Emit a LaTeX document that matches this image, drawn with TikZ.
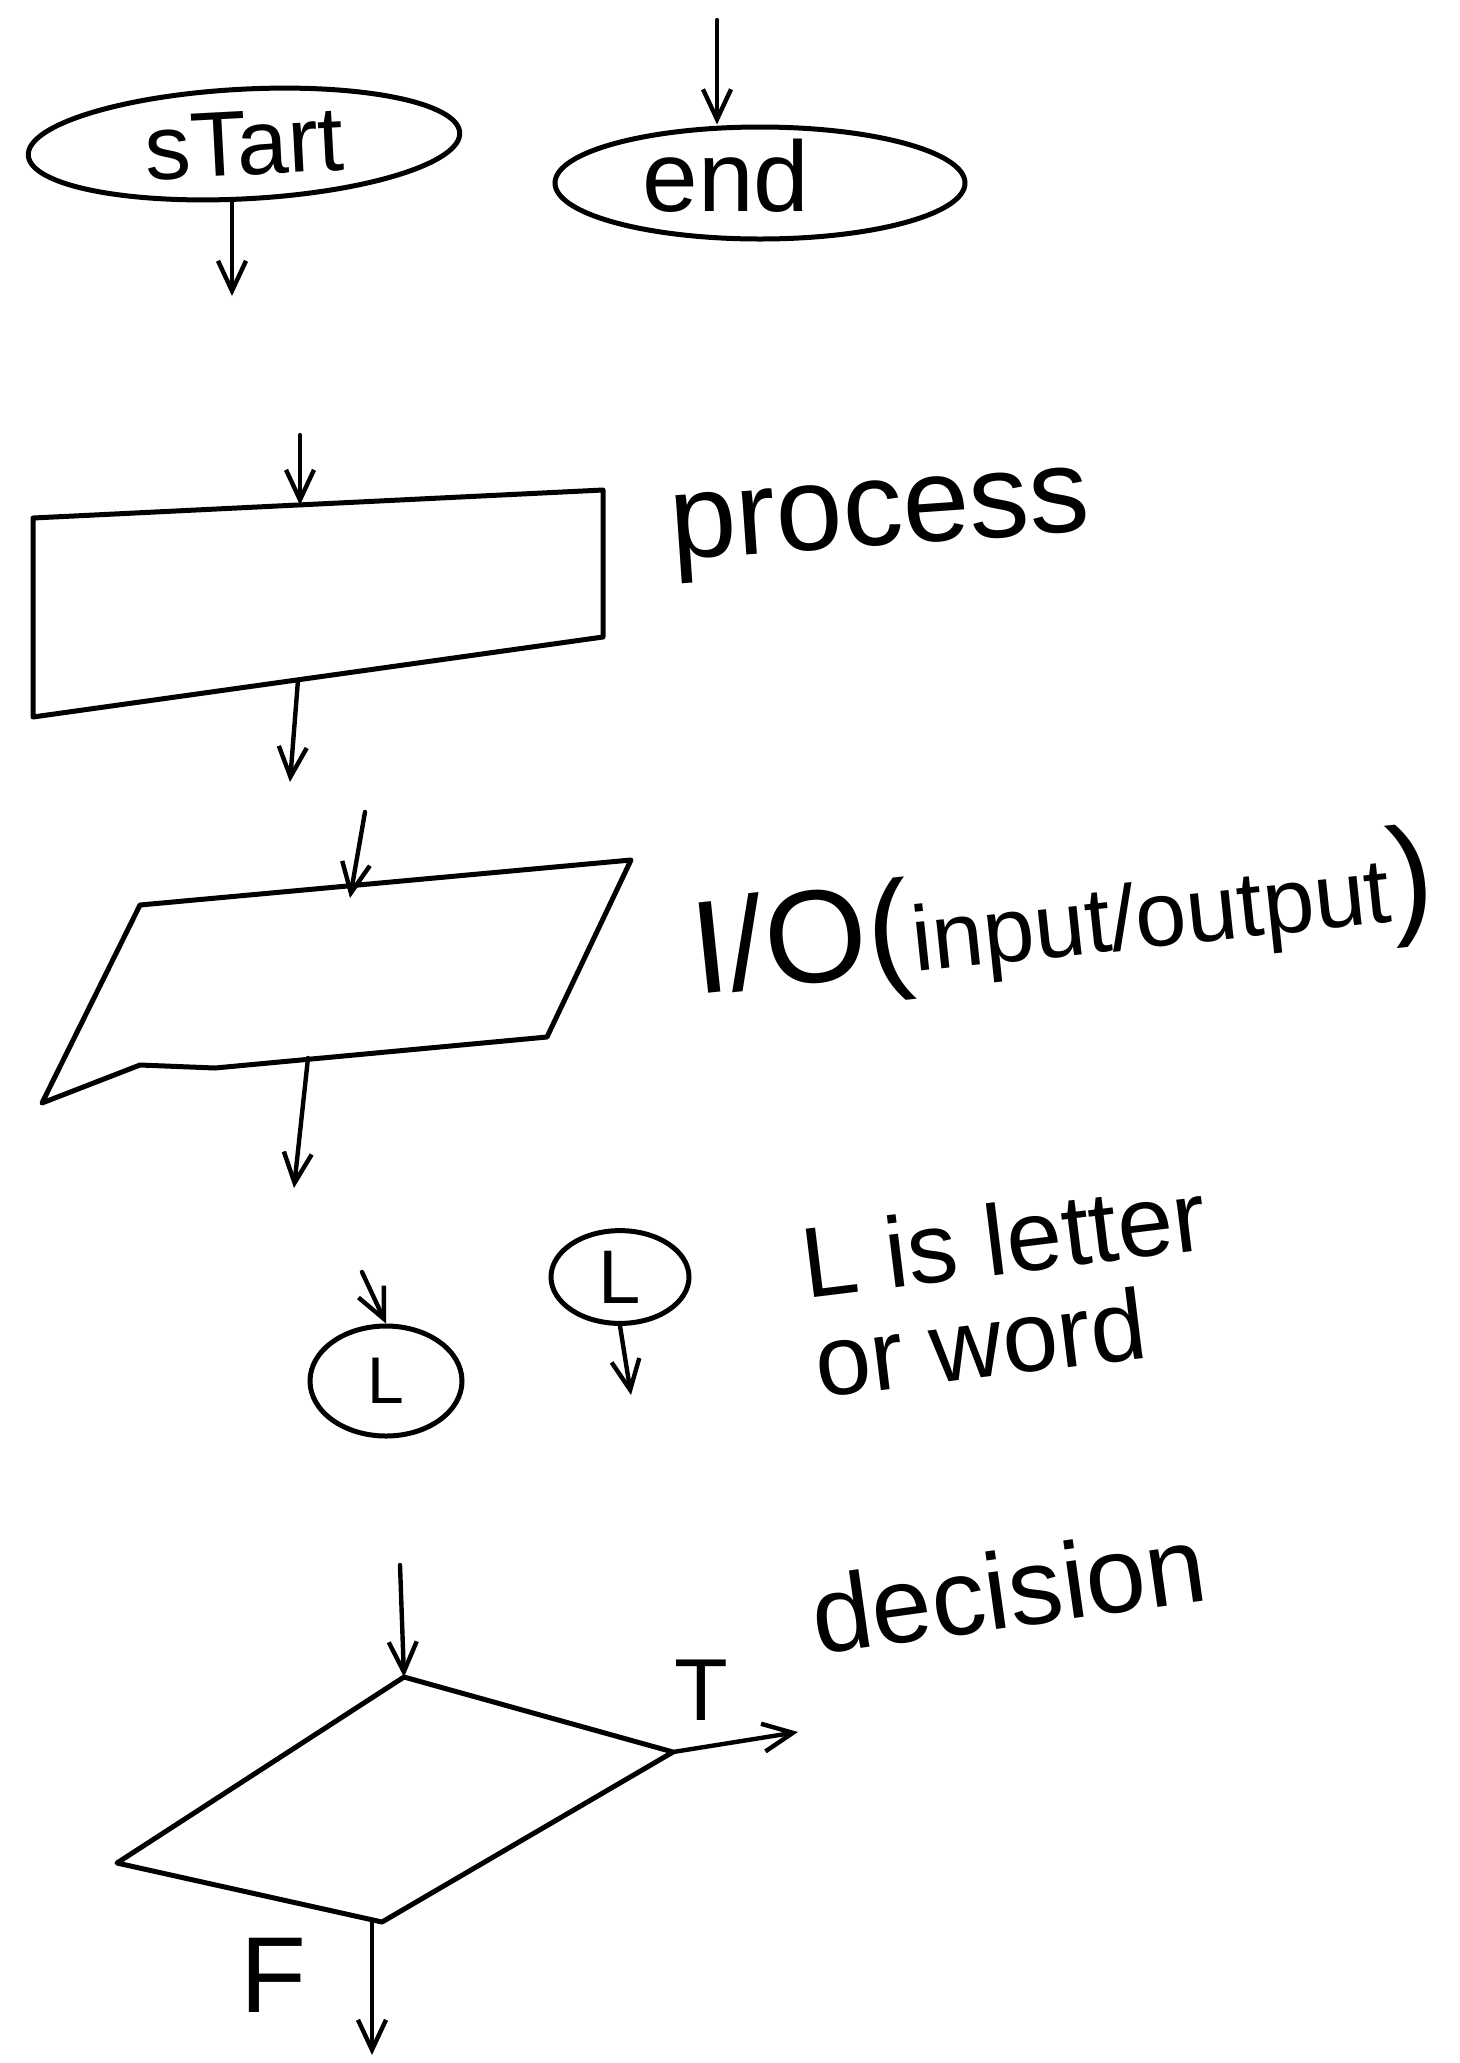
\documentclass[tikz,border=0pt]{standalone}
\usepackage{fontspec}
\setmainfont{Liberation Sans}
\usetikzlibrary{arrows.meta,shapes.geometric}
\begin{document}
\begin{tikzpicture}[x=0.5pt,y=-0.5pt,
  shapeline/.style={line width=2.5pt, line join=round, line cap=round},
  flow/.style={line width=2.2pt, line cap=round, -{Straight Barb[length=15pt,width=14pt,line width=2.2pt]}},
  fs/.style={font=\fontsize{#1}{#1}\selectfont, inner sep=0pt}]
\useasboundingbox (0,0) rectangle (1460,2063);
\fill[white] (0,0) rectangle (1460,2063);

% start / end
\node[ellipse, draw, line width=2.5pt, minimum width=216pt, minimum height=52pt, rotate=3,
      font=\fontsize{46}{46}\selectfont] (start) at (244,144) {sTart};
\coordinate (s1) at (232,296);
\draw[flow] (start.south -| s1) -- (s1);

\node[ellipse, draw, line width=2.5pt, minimum width=205pt, minimum height=56pt] (end) at (760,183) {};
\node[fs=50] (endtxt) at (726,176) {end};
\coordinate (e0) at (717,20);
\draw[flow] (e0) -- (e0 |- end.north);

% process
\coordinate (pTL) at (33,518);
\coordinate (pTR) at (603,490);
\coordinate (pBR) at (603,637);
\coordinate (pBL) at (33,717);
\draw[shapeline] (pTL) -- (pTR) -- (pBR) -- (pBL) -- cycle;
\coordinate (pin) at (300,435);
\coordinate (ptop) at (300,505);
\draw[flow] (pin) -- (ptop);
\coordinate (pbot) at (298,680);
\coordinate (pout) at (290,782);
\draw[flow] (pbot) -- (pout);
\node[fs=60, anchor=base west, rotate=4] (plab) at (672,560) {process};

% input / output
\coordinate (iTL) at (140,905);
\coordinate (iTR) at (631,860);
\coordinate (iBR) at (547,1037);
\coordinate (iBL) at (42,1103);
\coordinate (iB1) at (140,1065);
\coordinate (iB2) at (215,1068);
\draw[shapeline] (iTL) -- (iTR) -- (iBR) -- (iB2) -- (iB1) -- (iBL) -- cycle;
\coordinate (iin) at (365,812);
\coordinate (itop) at (350,898);
\draw[flow] (iin) -- (itop);
\coordinate (ibot) at (308,1058);
\coordinate (iout) at (294,1188);
\draw[flow] (ibot) -- (iout);
\node[anchor=base west, rotate=6, inner sep=0pt] (iolab) at (696,995)
  {\fontsize{66}{66}\selectfont I/O(\fontsize{46}{46}\selectfont input/output\fontsize{66}{66}\selectfont)};

% connectors
\node[ellipse, draw, line width=2.5pt, minimum width=76pt, minimum height=55pt,
      font=\fontsize{33}{33}\selectfont] (c1) at (386,1381) {L};
\coordinate (c1in) at (362,1272);
\draw[flow] (c1in) -- (c1.north);
\node[ellipse, draw, line width=2.5pt, minimum width=69pt, minimum height=45pt,
      font=\fontsize{38}{38}\selectfont] (c2) at (620,1277) {L};
\coordinate (c2out) at (631,1395);
\draw[flow] (c2.south) -- (c2out);
\node[font=\fontsize{50}{50}\selectfont, inner sep=0pt, align=left, rotate=7] (Llab) at (1010,1288)
  {L is letter\\or word};

% decision
\coordinate (dT) at (404,1677);
\coordinate (dR) at (673,1752);
\coordinate (dB) at (382,1922);
\coordinate (dL) at (117,1863);
\draw[shapeline] (dT) -- (dR) -- (dB) -- (dL) -- cycle;
\coordinate (din) at (400,1565);
\draw[flow] (din) -- (dT);
\coordinate (tend) at (798,1732);
\draw[flow] (dR) -- (tend);
\coordinate (fend) at (372,2055);
\draw[flow] (dB -| fend) -- (fend);
\node[fs=44] (tlab) at (701,1690) {T};
\node[fs=54] (flab) at (273,1975) {F};
\node[fs=54, anchor=base west, rotate=8] (dlab) at (817,1655) {decision};
\end{tikzpicture}
\end{document}
